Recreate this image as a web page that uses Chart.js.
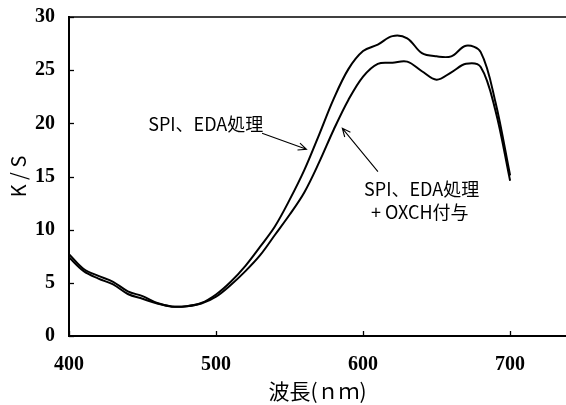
<!DOCTYPE html>
<html>
<head>
<meta charset="utf-8">
<script src="https://cdn.jsdelivr.net/npm/chart.js@4/dist/chart.umd.min.js"></script>
<style>
html,body{margin:0;padding:0;background:#fff;}
canvas{display:block;}
</style>
</head>
<body>
<canvas id="c" width="566" height="405"></canvas>
<script>
// Wavelength (nm)
const wavelength = [400,410,420,430,440,450,460,470,480,490,500,510,520,530,540,550,560,570,580,590,600,610,620,630,640,650,660,670,680,690,700];
// K/S — SPI、EDA処理
const spiEda = [7.7,6.3,5.65,5.1,4.2,3.75,3.1,2.78,2.8,3.1,3.9,5.1,6.6,8.4,10.3,12.8,15.6,18.9,22.3,25.1,26.8,27.4,28.2,28.0,26.6,26.3,26.3,27.3,26.7,22.0,15.1];
// K/S — SPI、EDA処理 + OXCH付与
const spiEdaOxch = [7.4,6.1,5.4,4.85,3.95,3.5,3.05,2.76,2.8,3.05,3.7,4.8,6.1,7.6,9.5,11.4,13.5,16.3,19.4,22.2,24.4,25.6,25.7,25.8,24.9,24.1,24.8,25.6,25.3,21.2,14.6];
const xTickValues = [400,500,600,700];
const yTickValues = [0,5,10,15,20,25,30];
const xMin = 400, xMax = 738, yMin = 0, yMax = 30;
// annotation texts and anchor positions (data units)
const labelTexts = [
  {text:'SPI、EDA処理', x:493, y:19.95},
  {text:'SPI、EDA処理', x:639.8, y:13.8},
  {text:'+ OXCH付与', x:638.5, y:11.66}
];
const arrows = [
  {from:[531.3,19.06], to:[561.5,17.56]},
  {from:[610.1,15.45], to:[585.9,19.53]}
];

const toPts = arr => wavelength.map((w,i)=>({x:w,y:arr[i]}));

const decorPlugin = {
  id:'decor',
  afterDraw(chart){
    const {ctx, chartArea:a, scales:{x, y}} = chart;
    ctx.save();
    ctx.strokeStyle = '#000';
    // top frame line
    ctx.lineWidth = 1.6;
    ctx.beginPath();
    ctx.moveTo(a.left, a.top);
    ctx.lineTo(a.right, a.top);
    ctx.stroke();
    // inward ticks
    ctx.lineWidth = 1.3;
    yTickValues.forEach(v=>{
      const py = Math.round(y.getPixelForValue(v))+0.5;
      ctx.beginPath(); ctx.moveTo(a.left, py); ctx.lineTo(a.left+5, py); ctx.stroke();
    });
    xTickValues.forEach(v=>{
      const px = Math.round(x.getPixelForValue(v))+0.5;
      ctx.beginPath(); ctx.moveTo(px, a.bottom); ctx.lineTo(px, a.bottom-5); ctx.stroke();
    });
    // labels
    ctx.fillStyle = '#000';
    ctx.font = '18px "Noto Sans CJK JP"';
    ctx.textAlign = 'center';
    ctx.textBaseline = 'middle';
    labelTexts.forEach(l=>{
      ctx.fillText(l.text, x.getPixelForValue(l.x), y.getPixelForValue(l.y));
    });
    // arrows
    ctx.lineWidth = 1.1;
    arrows.forEach(ar=>{
      const x1 = x.getPixelForValue(ar.from[0]), y1 = y.getPixelForValue(ar.from[1]);
      const x2 = x.getPixelForValue(ar.to[0]), y2 = y.getPixelForValue(ar.to[1]);
      const ang = Math.atan2(y2-y1, x2-x1);
      const h = 9, s = 0.42;
      ctx.beginPath();
      ctx.moveTo(x1,y1); ctx.lineTo(x2,y2);
      ctx.moveTo(x2 - h*Math.cos(ang - s), y2 - h*Math.sin(ang - s));
      ctx.lineTo(x2,y2);
      ctx.lineTo(x2 - h*Math.cos(ang + s), y2 - h*Math.sin(ang + s));
      ctx.stroke();
    });
    ctx.restore();
  }
};

new Chart(document.getElementById('c'), {
  type:'line',
  data:{
    datasets:[
      {label:'SPI、EDA処理', data:toPts(spiEda), borderColor:'#000', borderWidth:2, pointRadius:0, tension:0.35, fill:false},
      {label:'SPI、EDA処理 + OXCH付与', data:toPts(spiEdaOxch), borderColor:'#000', borderWidth:2, pointRadius:0, tension:0.35, fill:false}
    ]
  },
  options:{
    responsive:false,
    devicePixelRatio:1,
    animation:false,
    layout:{padding:{top:17,right:0,bottom:0,left:0}},
    plugins:{legend:{display:false}, tooltip:{enabled:false}},
    scales:{
      x:{
        type:'linear', min:xMin, max:xMax,
        afterBuildTicks(s){ s.ticks = xTickValues.map(v=>({value:v})); },
        afterFit(s){ s.height = 69; s.paddingLeft = 0; s.paddingRight = 0; },
        grid:{display:false, drawTicks:false},
        border:{display:true, color:'#000', width:2},
        ticks:{color:'#000', padding:17, maxRotation:0, font:{family:'"Liberation Serif"', weight:'bold', size:20}},
        title:{display:true, text:'波長(ｎｍ)', color:'#000', padding:{top:0,bottom:1}, font:{family:'"Noto Sans CJK JP"', size:21}}
      },
      y:{
        type:'linear', min:yMin, max:yMax,
        afterBuildTicks(s){ s.ticks = yTickValues.map(v=>({value:v})); },
        afterFit(s){ s.width = 69; s.paddingTop = 0; s.paddingBottom = 0; },
        grid:{display:false, drawTicks:false},
        border:{display:true, color:'#000', width:2},
        ticks:{color:'#000', padding:14, font:{family:'"Liberation Serif"', weight:'bold', size:20}},
        title:{display:true, text:'K / S', color:'#000', padding:{top:6,bottom:0}, font:{family:'"Noto Sans CJK JP"', size:20}}
      }
    }
  },
  plugins:[decorPlugin]
});
</script>
</body>
</html>
